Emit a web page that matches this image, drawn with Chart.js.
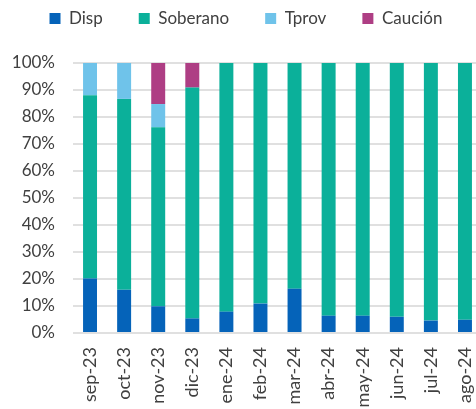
<!DOCTYPE html>
<html>
<head>
<meta charset="utf-8">
<script src="https://cdn.jsdelivr.net/npm/chart.js@4"></script>
<style>
    html, body { margin: 0; padding: 0; background: #fff; overflow: hidden; }
    #wrap { width: 482px; height: 409px; }
</style>
</head>
<body>
<div id="wrap"><canvas id="chart"></canvas></div>
<script>
// months shown on the x axis
var MONTHS = ["sep-23", "oct-23", "nov-23", "dic-23", "ene-24", "feb-24",
              "mar-24", "abr-24", "may-24", "jun-24", "jul-24", "ago-24"];

// share of each instrument, in percent
var DISP     = [20.2, 16.0,  9.9,  5.4,  7.9, 10.9, 16.4,  6.4,  6.4,  6.0,  4.6,  4.9];
var SOBERANO = [67.9, 70.7, 66.3, 85.5, 92.1, 89.1, 83.6, 93.6, 93.6, 94.0, 95.4, 95.1];
var TPROV    = [11.9, 13.3,  8.6,  0,    0,    0,    0,    0,    0,    0,    0,    0  ];
var CAUCION  = [ 0,    0,   15.2,  9.1,  0,    0,    0,    0,    0,    0,    0,    0  ];

var TEXT_COLOR = "#404040";
var GRID_COLOR = "#e0e0e0";


// the legend sits far above the plot, so give it some extra room underneath
var legendSpacer = {
    id: "legendSpacer",
    beforeInit: function (chart) {
        var fit = chart.legend.fit;
        chart.legend.fit = function () {
            fit.bind(chart.legend)();
            this.height += 26;
        };
    }
};


function makeSet(label, data, color) {
    return {
        label: label,
        data: data,
        backgroundColor: color,
        borderWidth: 0,
        barPercentage: 0.41,
        categoryPercentage: 1.0
    };
}


function initChart() {
    Chart.defaults.font.family = "Lato";
    Chart.defaults.color = TEXT_COLOR;

    new Chart(document.getElementById("chart"), {
        type: "bar",
        data: {
            labels: MONTHS,
            datasets: [
                makeSet("Disp", DISP, "#0563b9"),
                makeSet("Soberano", SOBERANO, "#0bb09a"),
                makeSet("Tprov", TPROV, "#6fc3ea"),
                makeSet("Caución", CAUCION, "#ae3e84")
            ]
        },
        options: {
            responsive: true,
            maintainAspectRatio: false,
            animation: false,
            layout: { padding: { top: -26, left: 10, right: 0, bottom: 0 } },
            plugins: {
                tooltip: { enabled: false },
                legend: {
                    position: "top",
                    labels: {
                        boxWidth: 11,
                        boxHeight: 11,
                        padding: 36,
                        color: TEXT_COLOR,
                        font: { size: 17 }
                    }
                }
            },
            scales: {
                x: {
                    stacked: true,
                    grid: { display: false, drawTicks: false },
                    border: { display: false },
                    ticks: {
                        autoSkip: false,
                        minRotation: 90,
                        maxRotation: 90,
                        padding: 14,
                        color: TEXT_COLOR,
                        font: { size: 18 }
                    },
                    // labels run off the bottom edge in the original
                    afterFit: function (scale) {
                        scale.height = 76;
                        scale.paddingLeft = 0;
                        scale.paddingRight = 0;
                    }
                },
                y: {
                    stacked: true,
                    min: 0,
                    max: 100,
                    grid: { color: GRID_COLOR, lineWidth: 2, drawTicks: false },
                    border: { display: false },
                    ticks: {
                        stepSize: 10,
                        padding: 18,
                        color: TEXT_COLOR,
                        font: { size: 17 },
                        callback: function (v) { return v + "%"; }
                    },
                    afterFit: function (scale) {
                        scale.width = 63;
                    }
                }
            }
        },
        plugins: [legendSpacer]
    });
}

initChart();
</script>
</body>
</html>
